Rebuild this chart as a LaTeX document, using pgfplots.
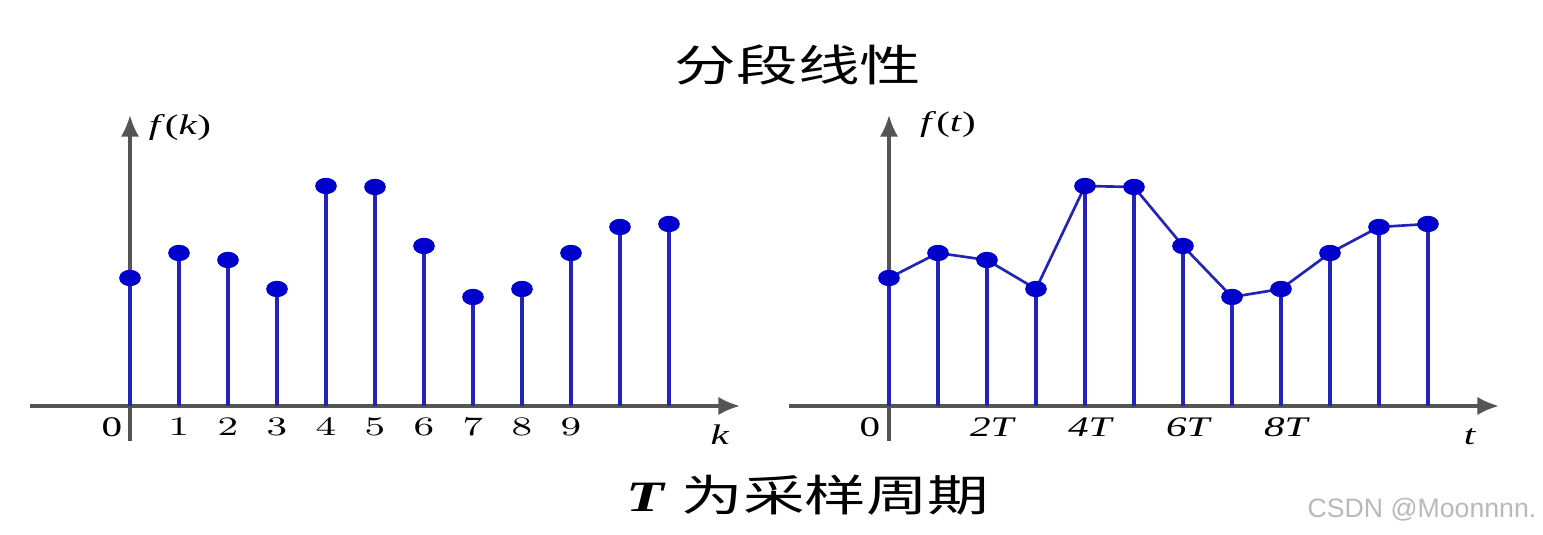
\documentclass[border=0pt]{standalone}
\usepackage{fontspec}
\setmainfont{Liberation Serif}
\newfontfamily\cjk{Noto Sans CJK SC}
\newfontfamily\wmfont{Liberation Sans}
\usepackage{graphicx}
\usepackage{pgfplots}
\pgfplotsset{compat=1.18}
\usepackage{pgfplotstable}
\usetikzlibrary{arrows.meta}

\definecolor{stemc}{RGB}{35,35,185}
\definecolor{dotc}{RGB}{0,0,205}
\definecolor{axisc}{RGB}{85,85,85}

% the reference is stretched sideways, so text is too
\newcommand\wx[1]{\scalebox{1.45}[1]{#1}}

% sample values, same for f(k) and f(t)
\pgfplotstableread{
k f
0 2.56
1 3.06
2 2.92
3 2.34
4 4.40
5 4.38
6 3.20
7 2.18
8 2.34
9 3.06
10 3.58
11 3.64
}\samples

\pgfplotsset{sig/.style={
  axis lines=middle, anchor=origin, x=14.7pt, y=15pt,
  xmin=-2.04, xmax=12.45, ymin=-0.7, ymax=5.82,
  axis line style={draw=axisc, line width=1pt, -{Latex[length=6.5pt,width=5.5pt]}},
  ytick=\empty, major tick length=0pt, clip=false,
  xticklabel style={font=\fontsize{8.5}{10}\selectfont, anchor=center, yshift=-6.3pt},
}}

\begin{document}
\begin{tikzpicture}[x=0.3pt, y=0.3pt]
\path[use as bounding box] (0,0) rectangle (1543,535);

% discrete signal f(k)
\begin{axis}[sig, at={(39pt,38.7pt)},
  xtick={1,...,9}, xticklabel={\wx{\pgfmathprintnumber{\tick}}}]
\addplot[ycomb, draw=stemc, line width=1pt, mark=*, mark size=1.95pt,
  mark options={xscale=1.4, fill=dotc, draw=dotc}] table[x=k, y=f] {\samples};
\end{axis}

% piecewise linear f(t)
\begin{axis}[sig, at={(266.7pt,38.7pt)},
  xtick={2,4,6,8},
  xticklabels={\wx{\textit{2T}},\wx{\textit{4T}},\wx{\textit{6T}},\wx{\textit{8T}}},
  xticklabel style={xshift=1.8pt}]
\addplot[sharp plot, draw=stemc, line width=0.8pt] table[x=k, y=f] {\samples};
\addplot[ycomb, draw=stemc, line width=1pt, mark=*, mark size=1.95pt,
  mark options={xscale=1.4, fill=dotc, draw=dotc}] table[x=k, y=f] {\samples};
\end{axis}

\begin{scope}[font=\fontsize{8.5}{10}\selectfont]
\node at (112,108) {\wx{0}};
\node at (870,108) {\wx{0}};
\node at (180,407) {\wx{\textit{f}(\textit{k})}};
\node at (948,410) {\wx{\textit{f}(\textit{t})}};
\node at (720,100) {\wx{\textit{k}}};
\node at (1470,98) {\wx{\textit{t}}};
\end{scope}

\node[font=\cjk\fontsize{13}{15}\selectfont] at (798,470) {\scalebox{1.42}[1]{分段线性}};
\node[font=\fontsize{13}{15}\selectfont] at (808,40)
  {\scalebox{1.42}[1]{\textbf{\textit{T}} {\cjk 为采样周期}}};
\node[font=\wmfont\fontsize{8}{9}\selectfont, text=gray!55, anchor=east, inner sep=0pt] at (1537,25) {CSDN @Moonnnn.};
\end{tikzpicture}
\end{document}
